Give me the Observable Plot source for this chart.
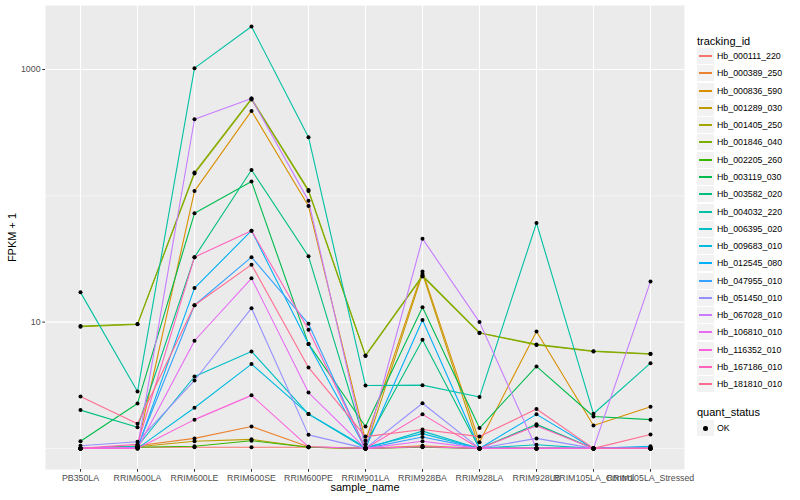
<!DOCTYPE html>
<html><head><meta charset="utf-8">
<script src="https://cdn.jsdelivr.net/npm/d3@7"></script>
<script src="https://cdn.jsdelivr.net/npm/@observablehq/plot@0.6"></script>
<style>
body{margin:0;background:#fff;font-family:"Liberation Sans",Arial,Helvetica,sans-serif;}
#wrap{position:relative;width:800px;height:500px;overflow:hidden;}
#legend{position:absolute;left:697px;top:0;width:103px;font-family:"Liberation Sans",Arial,sans-serif;color:#000;}
.ltitle{position:absolute;left:0;font-size:11px;line-height:16px;height:16px;white-space:nowrap;}
.lrow{position:absolute;left:0;height:17px;width:103px;}
.lkey{position:absolute;left:0;top:0;width:17px;height:16px;background:#F2F2F2;}
.lline{position:absolute;left:2px;width:13px;top:7px;height:1.5px;}
.ldot{position:absolute;left:6px;top:6px;width:4.5px;height:4.5px;border-radius:50%;background:#000;}
.llab{position:absolute;left:20px;top:0;line-height:16px;font-size:8.8px;white-space:nowrap;}
</style></head><body><div id="wrap"><div id="chart"></div><div id="legend"></div></div>
<script>
const samples = ["PB350LA","RRIM600LA","RRIM600LE","RRIM600SE","RRIM600PE","RRIM901LA","RRIM928BA","RRIM928LA","RRIM928LB","RRIM105LA_Control","RRIM105LA_Stressed"];
const trackingIds = ["Hb_000111_220","Hb_000389_250","Hb_000836_590","Hb_001289_030","Hb_001405_250","Hb_001846_040","Hb_002205_260","Hb_003119_030","Hb_003582_020","Hb_004032_220","Hb_006395_020","Hb_009683_010","Hb_012545_080","Hb_047955_010","Hb_051450_010","Hb_067028_010","Hb_106810_010","Hb_116352_010","Hb_167186_010","Hb_181810_010"];
const colors = ["#F8766D","#EA8331","#D89000","#C09B00","#A3A500","#7CAE00","#39B600","#00BB4E","#00BF7D","#00C1A3","#00BFC4","#00BAE0","#00B0F6","#35A2FF","#9590FF","#C77CFF","#E76BF3","#FA62DB","#FF62BC","#FF6C91"];

// FPKM + 1 per sample (order of samples)
const hb_000111_220 = [1.0, 1.02, 1.02, 1.02, 1.02, 1.0, 1.03, 1.0, 1.0, 1.0, 1.0];
const hb_000389_250 = [1.0, 1.05, 1.2, 1.49, 1.03, 1.0, 1.05, 1.0, 1.0, 1.0, 1.0];
const hb_000836_590 = [1.0, 1.04, 109, 470, 83, 1.15, 25.2, 1.12, 8.44, 1.52, 2.14];
const hb_001289_030 = [1.0, 1.03, 1.14, 1.18, 1.02, 1.0, 24.2, 1.0, 1.0, 1.0, 1.0];
const hb_001405_250 = [9.2, 9.6, 150, 580, 109, 5.4, 23.0, 8.2, 6.6, 5.85, 5.58];
const hb_001846_040 = [9.3, 9.65, 153, 589, 111, 5.45, 23.4, 8.24, 6.66, 5.89, 5.62];
const hb_002205_260 = [1.0, 1.02, 1.04, 1.15, 1.02, 1.0, 1.02, 1.0, 1.0, 1.0, 1.0];
const hb_003119_030 = [1.14, 2.27, 72.7, 130, 6.72, 1.49, 13.1, 1.45, 4.46, 1.79, 1.69];
const hb_003582_020 = [2.01, 1.47, 32.7, 160, 33.2, 1.08, 7.25, 1.0, 1.55, 1.0, 1.0];
const hb_004032_220 = [17.2, 2.82, 1025, 2190, 291, 3.15, 3.17, 2.55, 60.9, 1.88, 4.73];
const hb_006395_020 = [1.0, 1.04, 3.71, 5.86, 1.87, 1.0, 1.37, 1.0, 1.07, 1.0, 1.0];
const hb_009683_010 = [1.0, 1.0, 2.1, 4.65, 1.87, 1.02, 1.31, 1.0, 1.0, 1.0, 1.0];
const hb_012545_080 = [1.0, 1.0, 18.6, 53, 6.72, 1.0, 10.4, 1.0, 1.86, 1.0, 1.04];
const hb_047955_010 = [1.0, 1.02, 13.6, 32.7, 9.7, 1.0, 1.23, 1.0, 1.0, 1.0, 1.0];
const hb_051450_010 = [1.05, 1.13, 3.45, 12.9, 1.28, 1.0, 2.28, 1.0, 1.2, 1.0, 1.0];
const hb_067028_010 = [1.0, 1.02, 404, 589, 91.6, 1.0, 45.8, 10.0, 1.0, 1.0, 21];
const hb_106810_010 = [1.0, 1.0, 7.12, 22.2, 2.77, 1.0, 1.14, 1.0, 1.0, 1.0, 1.0];
const hb_116352_010 = [1.0, 1.0, 1.69, 2.63, 1.03, 1.0, 1.03, 1.0, 1.0, 1.0, 1.0];
const hb_167186_010 = [1.0, 1.08, 32.7, 53, 8.7, 1.0, 1.86, 1.0, 1.51, 1.0, 1.0];
const hb_181810_010 = [2.58, 1.57, 13.6, 28.5, 4.38, 1.24, 1.41, 1.24, 2.05, 1.0, 1.29];

const majorY = [10, 1000];
const minorY = [1, 100];
const quantStatus = ["OK"];

const seriesList = [hb_000111_220,hb_000389_250,hb_000836_590,hb_001289_030,hb_001405_250,hb_001846_040,hb_002205_260,hb_003119_030,hb_003582_020,hb_004032_220,hb_006395_020,hb_009683_010,hb_012545_080,hb_047955_010,hb_051450_010,hb_067028_010,hb_106810_010,hb_116352_010,hb_167186_010,hb_181810_010];

const rows = [];
seriesList.forEach((vals, i) => {
  vals.forEach((v, j) => rows.push({id: trackingIds[i], sample: samples[j], value: v, status: quantStatus[0]}));
});

const font = "Liberation Sans, Arial, Helvetica, sans-serif";
const chart = Plot.plot({
  width: 800, height: 500,
  marginLeft: 45, marginRight: 116, marginTop: 5, marginBottom: 31,
  style: {fontFamily: font, background: "white", overflow: "visible"},
  x: {type: "point", domain: samples, padding: 0.6, label: null},
  y: {type: "log", domain: [Math.pow(10, -0.167), Math.pow(10, 3.507)], label: null},
  color: {type: "ordinal", domain: trackingIds, range: colors},
  marks: [
    Plot.frame({fill: "#EBEBEB"}),
    Plot.ruleY(minorY, {stroke: "white", strokeWidth: 0.55}),
    Plot.ruleY(majorY, {stroke: "white", strokeWidth: 1.1}),
    Plot.ruleX(samples, {stroke: "white", strokeWidth: 1.1}),
    Plot.line(rows, {x: "sample", y: "value", z: "id", stroke: "id", strokeWidth: 1.1}),
    Plot.dot(rows, {x: "sample", y: "value", r: 2, fill: "black", stroke: "none"}),
    Plot.axisX(samples, {tickSize: 2.75, tickPadding: 2.2, stroke: "#333333", fill: "#4D4D4D", fontSize: 8.8, label: null}),
    Plot.axisY(majorY, {tickSize: 2.75, tickPadding: 2.2, stroke: "#333333", fill: "#4D4D4D", fontSize: 8.8, label: null, tickFormat: d3.format("d")}),
    Plot.text(["FPKM + 1"], {frameAnchor: "left", dx: -33, rotate: -90, fontSize: 11, fill: "black", textAnchor: "middle", lineAnchor: "middle"}),
    Plot.text(["sample_name"], {frameAnchor: "bottom", dy: 18, fontSize: 11, fill: "black", lineAnchor: "middle"})
  ]
});
document.getElementById("chart").appendChild(chart);

// legend
const lg = document.getElementById("legend");
function add(html){ const d = document.createElement("div"); d.innerHTML = html; const el = d.firstChild; lg.appendChild(el); return el; }
add(`<div class="ltitle" style="top:33px">tracking_id</div>`);
trackingIds.forEach((id, i) => {
  const top = Math.round(48 + i * 17.28);
  add(`<div class="lrow" style="top:${top}px"><div class="lkey"><div class="lline" style="background:${colors[i]}"></div></div><div class="llab">${id}</div></div>`);
});
add(`<div class="ltitle" style="top:404px">quant_status</div>`);
quantStatus.forEach((s, i) => {
  add(`<div class="lrow" style="top:${420 + Math.round(i*17.28)}px"><div class="lkey"><div class="ldot"></div></div><div class="llab">${s}</div></div>`);
});
</script></body></html>
